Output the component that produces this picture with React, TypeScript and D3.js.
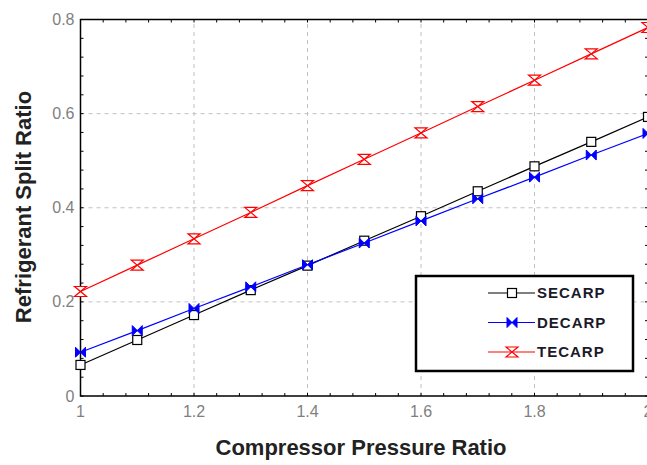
import { useEffect, useRef } from 'react';
import * as d3 from 'd3';

const pressureRatio = [1, 1.1, 1.2, 1.3, 1.4, 1.5, 1.6, 1.7, 1.8, 1.9, 2];
const secarp = [0.066, 0.119, 0.172, 0.225, 0.277, 0.33, 0.382, 0.435, 0.488, 0.54, 0.593];
const decarp = [0.093, 0.139, 0.186, 0.232, 0.279, 0.325, 0.372, 0.419, 0.465, 0.512, 0.558];
const tecarp = [0.222, 0.278, 0.334, 0.39, 0.447, 0.503, 0.559, 0.615, 0.671, 0.727, 0.783];

const xTicks = [1, 1.2, 1.4, 1.6, 1.8, 2];
const yTicks = [0, 0.2, 0.4, 0.6, 0.8];

const series = [
  { name: 'SECARP', values: secarp, color: '#000000', marker: 'square' },
  { name: 'DECARP', values: decarp, color: '#0000ff', marker: 'bowtie' },
  { name: 'TECARP', values: tecarp, color: '#ff0000', marker: 'hourglass' },
];

const W = 647;
const H = 465;

export default function App() {
  const svgRef = useRef<SVGSVGElement>(null);

  useEffect(() => {
    if (!svgRef.current) return;
    const svg = d3.select(svgRef.current);
    svg.selectAll('*').remove();

    const margin = { top: 19.5, right: 0, bottom: 69, left: 80.5 };
    const x = d3.scaleLinear().domain([1, 2]).range([margin.left, 648]);
    const y = d3.scaleLinear().domain([0, 0.8]).range([H - margin.bottom, margin.top]);

    const [x0, x1] = x.range();
    const [y0, y1] = y.range();

    svg.append('rect').attr('width', W).attr('height', H).attr('fill', '#fff');

    // grid
    const grid = svg.append('g').attr('stroke', '#c0c0c0').attr('stroke-dasharray', '4,4');
    xTicks.slice(1, -1).forEach((t) => {
      grid.append('line').attr('x1', x(t)).attr('x2', x(t)).attr('y1', y0).attr('y2', y1);
    });
    yTicks.slice(1, -1).forEach((t) => {
      grid.append('line').attr('x1', x0).attr('x2', x1).attr('y1', y(t)).attr('y2', y(t));
    });

    // minor ticks (inward), every 0.04
    const minorX = d3.range(0, 26).map((i) => 1 + i * 0.04);
    const minorY = d3.range(0, 21).map((i) => i * 0.04);
    const ticks = svg.append('g').attr('stroke', '#000').attr('stroke-width', 1);
    minorX.forEach((t) => {
      ticks.append('line').attr('x1', x(t)).attr('x2', x(t)).attr('y1', y0).attr('y2', y0 - 3);
      ticks.append('line').attr('x1', x(t)).attr('x2', x(t)).attr('y1', y1).attr('y2', y1 + 3);
    });
    minorY.forEach((t) => {
      ticks.append('line').attr('x1', x0).attr('x2', x0 + 3).attr('y1', y(t)).attr('y2', y(t));
      ticks.append('line').attr('x1', x1).attr('x2', x1 - 3).attr('y1', y(t)).attr('y2', y(t));
    });

    // frame
    svg
      .append('rect')
      .attr('x', x0)
      .attr('y', y1)
      .attr('width', x1 - x0)
      .attr('height', y0 - y1)
      .attr('fill', 'none')
      .attr('stroke', '#000')
      .attr('stroke-width', 1.5);

    // tick labels
    const labelFont = 'Arial, "Liberation Sans", sans-serif';
    svg
      .append('g')
      .selectAll('text')
      .data(xTicks)
      .join('text')
      .attr('x', (d) => x(d))
      .attr('y', y0 + 21)
      .attr('text-anchor', 'middle')
      .style('font-family', labelFont)
      .style('font-size', '16px')
      .style('fill', '#7f7f7f')
      .text((d) => d3.format('')(d));

    svg
      .append('g')
      .selectAll('text')
      .data(yTicks)
      .join('text')
      .attr('x', x0 - 6)
      .attr('y', (d) => y(d))
      .attr('dy', '0.35em')
      .attr('text-anchor', 'end')
      .style('font-family', labelFont)
      .style('font-size', '16px')
      .style('fill', '#7f7f7f')
      .text((d) => d3.format('')(d));

    // axis titles
    svg
      .append('text')
      .attr('x', 361)
      .attr('y', 455)
      .attr('text-anchor', 'middle')
      .style('font-family', labelFont)
      .style('font-size', '22px')
      .style('font-weight', 'bold')
      .style('fill', '#222')
      .text('Compressor Pressure Ratio');

    svg
      .append('text')
      .attr('transform', `translate(31, 207) rotate(-90)`)
      .attr('text-anchor', 'middle')
      .style('font-family', labelFont)
      .style('font-size', '22px')
      .style('font-weight', 'bold')
      .style('fill', '#222')
      .text('Refrigerant Split Ratio');

    const drawMarker = (g: d3.Selection<SVGGElement, unknown, null, undefined>, kind: string, color: string) => {
      if (kind === 'square') {
        g.append('rect')
          .attr('x', -4.5)
          .attr('y', -4.5)
          .attr('width', 9)
          .attr('height', 9)
          .attr('fill', '#fff')
          .attr('stroke', color)
          .attr('stroke-width', 1.2);
      } else if (kind === 'bowtie') {
        g.append('path')
          .attr('d', 'M-5,-5 L0,0 L-5,5 Z M5,-5 L0,0 L5,5 Z')
          .attr('fill', color)
          .attr('stroke', color)
          .attr('stroke-width', 1);
      } else {
        g.append('path')
          .attr('d', 'M-6,-5 L6,-5 L-6,5 L6,5 Z')
          .attr('fill', '#fff')
          .attr('stroke', color)
          .attr('stroke-width', 1.2);
      }
    };

    const line = d3
      .line<number>()
      .x((_, i) => x(pressureRatio[i]))
      .y((d) => y(d));

    series.forEach((s) => {
      svg
        .append('path')
        .datum(s.values)
        .attr('fill', 'none')
        .attr('stroke', s.color)
        .attr('stroke-width', 1.2)
        .attr('d', line);
      s.values.forEach((v, i) => {
        const g = svg.append('g').attr('transform', `translate(${x(pressureRatio[i])}, ${y(v)})`);
        drawMarker(g, s.marker, s.color);
      });
    });

    // legend
    const legend = svg.append('g');
    legend
      .append('rect')
      .attr('x', 416)
      .attr('y', 276)
      .attr('width', 217)
      .attr('height', 95)
      .attr('fill', '#fff')
      .attr('stroke', '#000')
      .attr('stroke-width', 2.5);

    series.forEach((s, i) => {
      const ly = 293 + i * 29.5;
      legend
        .append('line')
        .attr('x1', 488)
        .attr('x2', 535)
        .attr('y1', ly)
        .attr('y2', ly)
        .attr('stroke', s.color)
        .attr('stroke-width', 1.2);
      const g = legend.append('g').attr('transform', `translate(512, ${ly})`);
      drawMarker(g, s.marker, s.color);
      legend
        .append('text')
        .attr('x', 537)
        .attr('y', ly)
        .attr('dy', '0.36em')
        .style('font-family', labelFont)
        .style('font-size', '15px')
        .style('font-weight', 'bold')
        .style('letter-spacing', '1px')
        .style('fill', '#1a1a2a')
        .text(s.name);
    });
  }, []);

  return (
    <svg
      ref={svgRef}
      width={W}
      height={H}
      style={{ position: 'absolute', left: 0, top: 0, display: 'block' }}
    />
  );
}
